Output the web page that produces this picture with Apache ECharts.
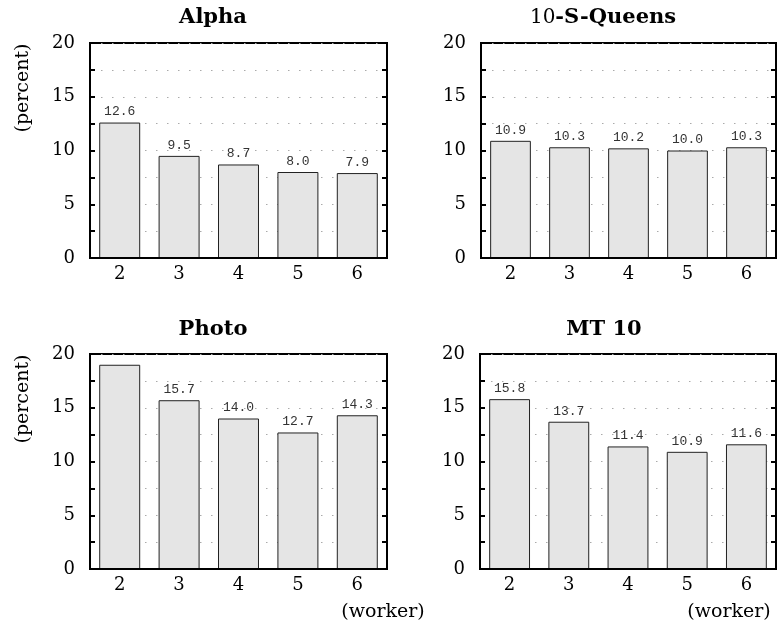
<!DOCTYPE html>
<html>
<head>
<meta charset="utf-8">
<script src="https://cdn.jsdelivr.net/npm/echarts@6/dist/echarts.min.js"></script>
<style>
  html, body { margin: 0; padding: 0; background: #fff; }
  #chart { width: 777px; height: 632px; }
</style>
</head>
<body>
<div id="chart"></div>
<script>
// worker counts on the x axis
const workers = ["2", "3", "4", "5", "6"];
// overhead per benchmark (percent)
const alpha = [12.6, 9.5, 8.7, 8.0, 7.9];
const queens = [10.9, 10.3, 10.2, 10.0, 10.3];
const photo = [19.0, 15.7, 14.0, 12.7, 14.3];
const mt10 = [15.8, 13.7, 11.4, 10.9, 11.6];
const yTicks = [0, 5, 10, 15, 20];

const panels = [
  { data: alpha, grid: { left: 90, top: 43, width: 297, height: 215 } },
  { data: queens, grid: { left: 481, top: 43, width: 295, height: 215 } },
  { data: photo, grid: { left: 90, top: 354, width: 297, height: 215 } },
  { data: mt10, grid: { left: 480, top: 354, width: 296, height: 215 } },
];

const serif = "'DejaVu Serif', serif";
const frame = { color: "#000", width: 2 };

let grids = [], xAxes = [], yAxes = [], series = [];
panels.forEach((p, i) => {
  grids.push(Object.assign({
    show: true,
    borderColor: "#000",
    borderWidth: 2,
    backgroundColor: "transparent",
  }, p.grid));
  xAxes.push({
    type: "category",
    gridIndex: i,
    data: workers,
    z: 10,
    axisTick: { show: false },
    axisLine: { lineStyle: frame },
    axisLabel: { color: "#000", fontFamily: serif, fontSize: 18, margin: 7 },
  });
  // left axis: labels, inner ticks and dotted grid lines (behind the bars)
  yAxes.push({
    type: "value",
    gridIndex: i,
    min: 0,
    max: 20,
    interval: 2.5,
    axisLine: { show: true, lineStyle: frame },
    axisTick: { show: true, inside: true, length: 5, lineStyle: frame },
    axisLabel: {
      color: "#000",
      fontFamily: serif,
      fontSize: 18,
      margin: 15,
      formatter: (v) => (yTicks.indexOf(v) >= 0 ? String(v) : ""),
    },
    splitLine: { lineStyle: { color: "#aaa", width: 1, type: [1.5, 9.5] } },
  });
  // right axis: only inner ticks
  yAxes.push({
    type: "value",
    gridIndex: i,
    position: "right",
    min: 0,
    max: 20,
    interval: 2.5,
    axisLine: { show: true, lineStyle: frame },
    axisTick: { show: true, inside: true, length: 5, lineStyle: frame },
    axisLabel: { show: false },
    splitLine: { show: false },
  });
  series.push({
    type: "bar",
    xAxisIndex: i,
    yAxisIndex: i * 2,
    data: p.data,
    barWidth: "69%",
    itemStyle: { color: "#e5e5e5", borderColor: "#222", borderWidth: 1 },
    label: {
      show: true,
      position: "top",
      distance: 4,
      color: "#333",
      fontFamily: "'Liberation Mono', monospace",
      fontSize: 13,
      // value labels that would run into the frame are left out
      formatter: (d) => (d.value > 18 ? "" : d.value.toFixed(1)),
    },
  });
});

const titleStyle = { fontFamily: serif, fontSize: 21, fontWeight: "bold", fill: "#000" };
function txt(x, y, text, extra) {
  return {
    type: "text",
    x: x,
    y: y,
    style: Object.assign({ text: text, align: "center", verticalAlign: "middle",
      fontFamily: serif, fontSize: 19, fill: "#000" }, extra || {}),
  };
}

const graphics = [
  txt(213, 18, "Alpha", titleStyle),
  {
    type: "text",
    x: 603,
    y: 18,
    style: {
      text: "{n|10}{b|-S-Queens}",
      align: "center",
      verticalAlign: "middle",
      rich: {
        n: { fontFamily: serif, fontSize: 20, fill: "#000" },
        b: { fontFamily: serif, fontSize: 21, fontWeight: "bold", fill: "#000" },
      },
    },
  },
  txt(213, 330, "Photo", titleStyle),
  txt(604, 330, "MT 10", titleStyle),
  Object.assign(txt(23, 88, "(percent)"), { rotation: Math.PI / 2 }),
  Object.assign(txt(23, 399, "(percent)"), { rotation: Math.PI / 2 }),
  txt(383, 612, "(worker)"),
  txt(729, 612, "(worker)"),
];

const chart = echarts.init(document.getElementById("chart"));
chart.setOption({
  animation: false,
  grid: grids,
  xAxis: xAxes,
  yAxis: yAxes,
  series: series,
  graphic: graphics,
});
window.addEventListener("resize", () => chart.resize());
</script>
</body>
</html>
